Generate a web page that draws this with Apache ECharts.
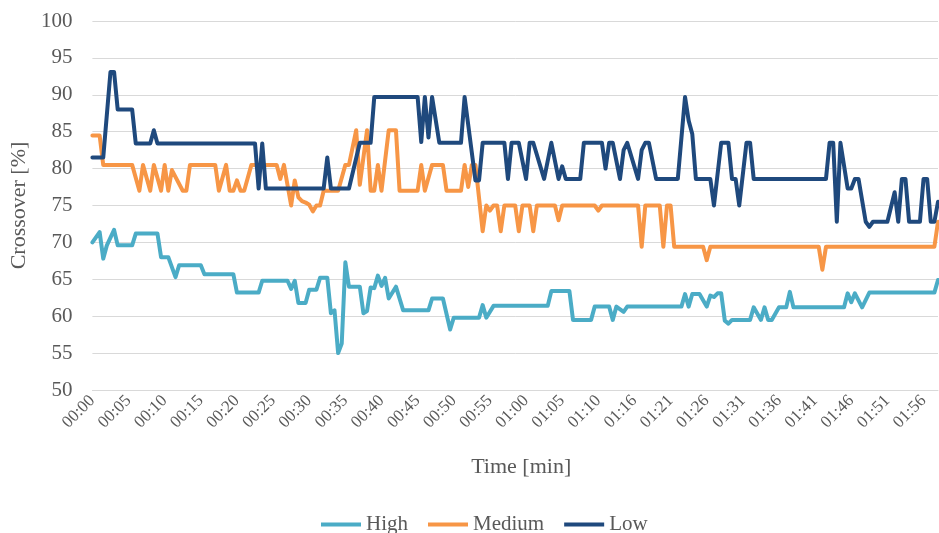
<!DOCTYPE html>
<html>
<head>
<meta charset="utf-8">
<script src="https://cdn.jsdelivr.net/npm/echarts@6/dist/echarts.min.js"></script>
<style>
  html, body { margin: 0; padding: 0; background: #ffffff; }
  #chart { width: 939px; height: 533px; }
</style>
</head>
<body>
<div id="chart"></div>
<script>
// Sample index (one sample per row of the log) -> tick label, every 10 samples
const tickLabels = ['00:00','00:05','00:10','00:15','00:20','00:25','00:30','00:35','00:40','00:45',
  '00:50','00:55','01:00','01:05','01:10','01:16','01:21','01:26','01:31','01:36','01:41','01:46','01:51','01:56'];
const lastSample = 234;
const seriesNames = ['High', 'Medium', 'Low'];

// Crossover [%] at each sample where the value changes: [sample, value]
const highPoints = [
  [0,70.0],[2,71.4],[3,67.8],[4,69.6],[6,71.7],[7,69.6],[11,69.6],[12,71.2],[18,71.2],[19,68.0],
  [21,68.0],[23,65.3],[24,66.9],[30,66.9],[31,65.7],[39,65.7],[40,63.2],[46,63.2],[47,64.8],[54,64.8],
  [55,63.7],[56,64.8],[57,61.8],[59,61.8],[60,63.6],[62,63.6],[63,65.2],[65,65.2],[66,60.4],[67,60.8],
  [68,55.0],[69,56.3],[70,67.3],[71,64.0],[74,64.0],[75,60.4],[76,60.7],[77,63.9],[78,63.8],[79,65.5],
  [80,64.1],[81,65.2],[82,62.4],[84,64.0],[86,60.8],[93,60.8],[94,62.4],[97,62.4],[99,58.2],[100,59.8],
  [107,59.8],[108,61.5],[109,59.8],[111,61.4],[126,61.4],[127,63.4],[132,63.4],[133,59.5],[138,59.5],[139,61.3],
  [143,61.3],[144,59.5],[145,61.3],[147,60.6],[148,61.3],[163,61.3],[164,63.0],[165,61.3],[166,63.0],[168,63.0],
  [170,61.3],[171,62.8],[172,62.6],[173,63.1],[174,63.1],[175,59.4],[176,59.0],[177,59.5],[182,59.5],[183,61.2],
  [185,59.5],[186,61.2],[187,59.5],[188,59.5],[190,61.2],[192,61.2],[193,63.3],[194,61.2],[208,61.2],[209,63.1],
  [210,61.9],[211,63.1],[213,61.2],[215,63.2],[233,63.2],[234,64.9]
];
const mediumPoints = [
  [0,84.5],[2,84.5],[3,80.5],[11,80.5],[13,77.0],[14,80.5],[16,77.0],[17,80.5],[19,77.0],[20,80.5],
  [21,77.0],[22,79.8],[25,77.0],[26,77.0],[27,80.5],[34,80.5],[35,77.0],[37,80.5],[38,77.0],[39,77.0],
  [40,78.4],[41,77.0],[42,77.0],[44,80.5],[51,80.5],[52,78.6],[53,80.5],[55,75.0],[56,78.4],[57,76.1],
  [58,75.6],[59,75.4],[60,75.1],[61,74.2],[62,75.0],[63,75.0],[64,77.0],[68,77.0],[70,80.5],[71,80.5],
  [73,85.2],[74,77.8],[76,85.2],[77,77.0],[78,77.0],[79,80.5],[80,77.0],[82,85.2],[84,85.2],[85,77.0],
  [90,77.0],[91,80.5],[92,77.0],[94,80.5],[97,80.5],[98,77.0],[102,77.0],[103,80.5],[104,77.5],[105,80.5],
  [106,80.5],[108,71.5],[109,75.0],[110,74.3],[111,75.0],[112,75.0],[113,71.5],[114,75.0],[117,75.0],[118,71.5],
  [119,75.0],[121,75.0],[122,71.5],[123,75.0],[128,75.0],[129,73.0],[130,75.0],[139,75.0],[140,74.3],[141,75.0],
  [151,75.0],[152,69.4],[153,75.0],[157,75.0],[158,69.4],[159,75.0],[160,75.0],[161,69.4],[169,69.4],[170,67.6],
  [171,69.4],[201,69.4],[202,66.3],[203,69.4],[233,69.4],[234,72.8]
];
const lowPoints = [
  [0,81.5],[3,81.5],[5,93.1],[6,93.1],[7,88.0],[11,88.0],[12,83.4],[16,83.4],[17,85.2],[18,83.4],
  [45,83.4],[46,77.3],[47,83.4],[48,77.3],[64,77.3],[65,81.5],[66,77.3],[71,77.3],[74,83.5],[77,83.5],
  [78,89.7],[90,89.7],[91,83.6],[92,89.7],[93,84.2],[94,89.7],[96,83.5],[102,83.5],[103,89.7],[106,78.4],
  [107,78.4],[108,83.5],[114,83.5],[115,78.6],[116,83.5],[118,83.5],[120,78.6],[121,83.5],[122,83.5],[125,78.6],
  [127,83.5],[129,78.6],[130,80.3],[131,78.6],[135,78.6],[136,83.5],[141,83.5],[142,80.0],[143,83.5],[144,83.5],
  [146,78.6],[147,82.5],[148,83.5],[151,78.6],[152,82.5],[153,83.5],[154,83.5],[156,78.6],[162,78.6],[164,89.7],
  [165,86.5],[166,84.7],[167,78.6],[171,78.6],[172,75.0],[174,83.5],[176,83.5],[177,78.6],[178,78.6],[179,75.0],
  [181,83.5],[182,83.5],[183,78.6],[203,78.6],[204,83.5],[205,83.5],[206,72.8],[207,83.5],[209,77.3],[210,77.3],
  [211,78.6],[212,78.6],[214,72.8],[215,72.1],[216,72.8],[220,72.8],[222,76.8],[223,72.8],[224,78.6],[225,78.6],
  [226,72.8],[229,72.8],[230,78.6],[231,78.6],[232,72.8],[233,72.8],[234,75.5]
];

const colors = ['#4BACC6', '#F79646', '#1F497D'];
const textColor = '#595959';
const fontFamily = "'Liberation Serif', 'DejaVu Serif', serif";

const chart = echarts.init(document.getElementById('chart'), null, { renderer: 'canvas' });

function lineSeries(name, data, color) {
  return {
    name: name,
    type: 'line',
    data: data,
    symbol: 'none',
    animation: false,
    lineStyle: { color: color, width: 4, join: 'round', cap: 'round' },
    itemStyle: { color: color }
  };
}

chart.setOption({
  backgroundColor: '#ffffff',
  animation: false,
  color: colors,
  textStyle: { fontFamily: fontFamily, color: textColor },
  grid: { left: 92, right: 1, top: 21, bottom: 143, containLabel: false },
  xAxis: {
    type: 'value',
    min: 0,
    max: lastSample,
    interval: 10,
    name: 'Time [min]',
    nameLocation: 'middle',
    nameGap: 66,
    nameTextStyle: { fontFamily: fontFamily, fontSize: 22, color: textColor, padding: [0, 0, 0, 12] },
    axisLine: { show: true, lineStyle: { color: '#d9d9d9', width: 1 } },
    axisTick: { show: false },
    splitLine: { show: false },
    axisLabel: {
      rotate: 45,
      margin: 8,
      fontFamily: fontFamily,
      fontSize: 17,
      color: textColor,
      showMaxLabel: false,
      hideOverlap: false,
      formatter: function (v) {
        if (v % 10 !== 0) return '';
        const label = tickLabels[v / 10];
        return label === undefined ? '' : label;
      }
    }
  },
  yAxis: {
    type: 'value',
    min: 50,
    max: 100,
    interval: 5,
    name: 'Crossover [%]',
    nameLocation: 'middle',
    nameGap: 60,
    nameTextStyle: { fontFamily: fontFamily, fontSize: 22, color: textColor },
    axisLine: { show: false },
    axisTick: { show: false },
    splitLine: { show: true, lineStyle: { color: '#d9d9d9', width: 1 } },
    axisLabel: { fontFamily: fontFamily, fontSize: 21, color: textColor, margin: 20 }
  },
  legend: {
    data: seriesNames,
    left: 316,
    top: 509,
    icon: 'rect',
    itemWidth: 40,
    itemHeight: 4,
    itemGap: 20,
    textStyle: { fontFamily: fontFamily, fontSize: 21, color: textColor }
  },
  series: [
    lineSeries(seriesNames[0], highPoints, colors[0]),
    lineSeries(seriesNames[1], mediumPoints, colors[1]),
    lineSeries(seriesNames[2], lowPoints, colors[2])
  ]
});
</script>
</body>
</html>
